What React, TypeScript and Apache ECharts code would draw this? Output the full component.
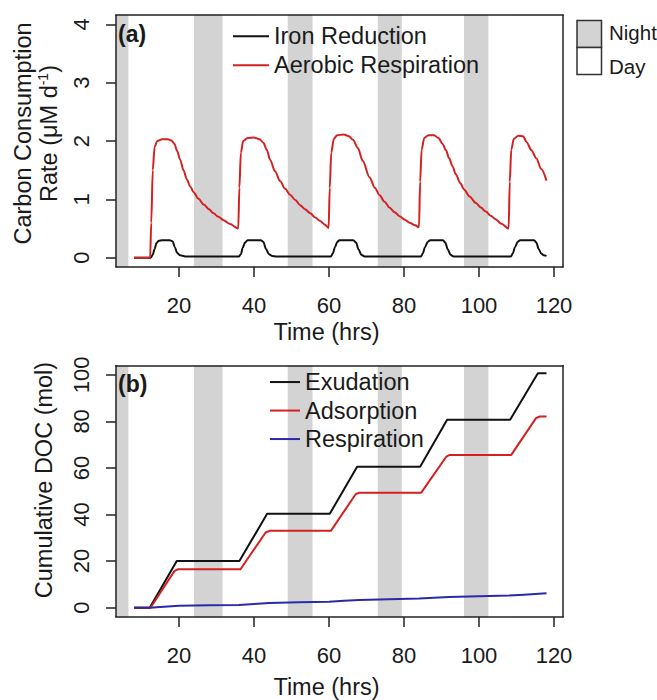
import React, { useEffect, useRef } from "react";
import * as echarts from "echarts";

const FONT = "'Liberation Sans', Arial, Helvetica, sans-serif";
const TEXT = "#1a1a1a";
const AXIS = "#222222";

// ---------- Panel (a): carbon consumption rate (µM d-1) ----------
const ironTime = [
  8, 12.5, 13.0, 13.5, 14.0, 14.6, 15.5, 17.5, 18.3, 18.9, 19.5, 20.3, 22.0,
  36.0, 36.5, 37.0, 37.6, 38.3, 41.8, 42.5, 43.2, 44.0, 44.8, 46.0,
  60.5, 61.0, 61.6, 62.2, 62.8, 66.5, 67.2, 67.9, 68.6, 69.5,
  84.5, 85.0, 85.6, 86.3, 87.0, 90.4, 91.0, 91.7, 92.4, 93.2,
  108.5, 109.0, 109.6, 110.3, 111.0, 114.7, 115.3, 115.9, 116.6, 117.3, 118.0,
];
const ironRate = [
  0, 0, 0.05, 0.15, 0.25, 0.29, 0.3, 0.3, 0.28, 0.18, 0.08, 0.04, 0.02,
  0.02, 0.06, 0.17, 0.26, 0.3, 0.3, 0.27, 0.15, 0.06, 0.03, 0.02,
  0.02, 0.07, 0.18, 0.27, 0.3, 0.3, 0.26, 0.14, 0.05, 0.02,
  0.02, 0.07, 0.18, 0.27, 0.3, 0.3, 0.26, 0.14, 0.05, 0.02,
  0.02, 0.07, 0.18, 0.27, 0.3, 0.3, 0.26, 0.15, 0.07, 0.04, 0.03,
];

const aeroTime = [
  8, 12.3, 12.6, 13.0, 13.5, 14.2, 15.5, 17.0, 18.0, 18.8, 19.5, 20.3, 21.2, 22.1, 23.0, 23.9, 25.2, 26.6, 28.0, 29.2, 30.5, 31.9, 33.5, 35.8,
  36.1, 36.5, 37.1, 38.3, 40.0, 41.5, 42.5, 43.4, 44.3, 45.6, 47.0, 48.3, 49.6, 51.0, 52.3, 53.6, 55.0, 56.3, 57.6, 58.8, 59.9,
  60.2, 60.6, 61.3, 62.2, 64.0, 65.3, 66.4, 67.7, 69.0, 70.8, 72.2, 73.5, 74.8, 76.1, 77.5, 78.8, 80.2, 81.5, 82.8, 84.0,
  84.3, 84.7, 85.4, 86.5, 88.0, 89.2, 90.3, 91.2, 92.0, 93.0, 93.8, 95.0, 96.0, 97.5, 99.1, 100.5, 101.8, 103.1, 104.4, 106.0, 107.9,
  108.2, 108.6, 109.3, 110.5, 111.8, 112.7, 114.0, 115.3, 116.6, 118.0,
];
const aeroRate = [
  0, 0, 0.6, 1.5, 1.9, 2.0, 2.03, 2.03, 2.01, 1.95, 1.83, 1.68, 1.5, 1.34, 1.22, 1.12, 1.01, 0.91, 0.83, 0.76, 0.7, 0.64, 0.58, 0.5,
  1.2, 1.8, 2.0, 2.05, 2.06, 2.03, 1.97, 1.85, 1.68, 1.48, 1.31, 1.18, 1.08, 0.99, 0.9, 0.83, 0.76, 0.69, 0.63, 0.57, 0.51,
  1.2, 1.8, 2.04, 2.1, 2.11, 2.08, 2.02, 1.88, 1.66, 1.38, 1.2, 1.07, 0.96, 0.86, 0.78, 0.71, 0.65, 0.6, 0.56, 0.52,
  1.3, 1.85, 2.05, 2.1, 2.1, 2.05, 1.95, 1.84, 1.71, 1.56, 1.43, 1.28, 1.17, 1.05, 0.94, 0.86, 0.79, 0.72, 0.66, 0.58, 0.5,
  1.3, 1.85, 2.04, 2.09, 2.08, 1.98, 1.84, 1.7, 1.52, 1.32,
];

// ---------- Panel (b): cumulative DOC (mol) ----------
const exuTime = [8, 12.2, 19.4, 36.1, 43.5, 60.2, 67.5, 84.3, 91.5, 108.3, 115.7, 118];
const exuVal = [0, 0, 20.0, 20.0, 40.3, 40.3, 60.5, 60.5, 80.7, 80.7, 100.7, 100.7];

const adsTime = [8, 12.4, 18.8, 19.8, 36.4, 43.1, 44.1, 60.5, 67.1, 68.1, 84.6, 91.3, 92.2, 108.6, 115.2, 116.2, 118];
const adsVal = [0, 0, 15.8, 16.5, 16.5, 32.3, 33.0, 33.0, 48.7, 49.4, 49.4, 64.9, 65.6, 65.6, 81.4, 82.1, 82.1];

const respTime = [8, 12.2, 14, 20, 28, 36, 40, 44, 52, 60, 64, 68, 76, 84, 88, 92, 100, 108, 112, 116, 118];
const respVal = [0, 0, 0.2, 0.8, 1.0, 1.2, 1.6, 2.0, 2.3, 2.6, 3.0, 3.3, 3.6, 3.9, 4.3, 4.6, 4.9, 5.2, 5.6, 6.0, 6.2];

// ---------- Night periods (hrs) ----------
const nightStart = [0, 24, 49, 73, 96];
const nightEnd = [6.5, 31.6, 55.6, 79.4, 102.5];

// ---------- Ticks ----------
const xTicks = [20, 40, 60, 80, 100, 120];
const yTicksA = [0, 1, 2, 3, 4];
const yTicksB = [0, 20, 40, 60, 80, 100];

const X_MIN = 3.2;
const X_MAX = 122.4;

const zip = (t: number[], v: number[]) => t.map((x, i) => [x, v[i]]);

function buildOption(): any {
  const bands = nightStart.map((s, i) => [
    { xAxis: Math.max(s, X_MIN) },
    { xAxis: nightEnd[i] },
  ]);

  const labelStyle = { fontFamily: FONT, fontSize: 22, color: TEXT };
  const lineSt = { color: AXIS, width: 1.5 };

  const bottomX = (gridIndex: number, nameGap: number) => ({
    type: "value",
    gridIndex,
    min: X_MIN,
    max: X_MAX,
    position: "bottom",
    z: 10,
    axisLine: { show: true, onZero: false, lineStyle: lineSt },
    axisTick: { show: true, length: 10, customValues: xTicks, lineStyle: lineSt },
    axisLabel: { customValues: xTicks, margin: 27, ...labelStyle },
    splitLine: { show: false },
    name: "Time (hrs)",
    nameLocation: "middle",
    nameGap,
    nameTextStyle: { fontFamily: FONT, fontSize: 23.5, color: TEXT, padding: [0, 26, 0, 0] },
  });
  const topX = (gridIndex: number) => ({
    type: "value",
    gridIndex,
    min: X_MIN,
    max: X_MAX,
    position: "top",
    z: 10,
    axisLine: { show: true, onZero: false, lineStyle: lineSt },
    axisTick: { show: false },
    axisLabel: { show: false },
    splitLine: { show: false },
  });
  const leftY = (gridIndex: number, min: number, max: number, ticks: number[]) => ({
    type: "value",
    gridIndex,
    min,
    max,
    position: "left",
    z: 10,
    axisLine: { show: true, onZero: false, lineStyle: lineSt },
    axisTick: { show: true, length: 10, customValues: ticks, lineStyle: lineSt },
    axisLabel: { show: false },
    splitLine: { show: false },
  });
  const rightY = (gridIndex: number, min: number, max: number) => ({
    type: "value",
    gridIndex,
    min,
    max,
    position: "right",
    z: 10,
    axisLine: { show: true, onZero: false, lineStyle: lineSt },
    axisTick: { show: false },
    axisLabel: { show: false },
    splitLine: { show: false },
  });

  const line = (name: string, data: number[][], color: string, xi: number, smooth: number, extra: any = {}) => ({
    type: "line",
    name,
    xAxisIndex: xi,
    yAxisIndex: xi,
    data,
    symbol: "none",
    showSymbol: false,
    smooth,
    smoothMonotone: "x",
    lineStyle: { color, width: 2 },
    itemStyle: { color },
    ...extra,
  });

  const legendText = { fontFamily: FONT, fontSize: 23.5, color: TEXT };

  return {
    animation: false,
    backgroundColor: "#ffffff",
    grid: [
      { left: 116, top: 15, width: 447, height: 252 },
      { left: 116, top: 365.5, width: 447, height: 251.5 },
    ],
    xAxis: [bottomX(0, 52.5), bottomX(1, 58), topX(0), topX(1)],
    yAxis: [
      leftY(0, -0.16, 4.16, yTicksA),
      leftY(1, -4, 104, yTicksB),
      rightY(0, -0.16, 4.16),
      rightY(1, -4, 104),
    ],
    legend: [
      {
        orient: "vertical",
        left: 233,
        top: 21.8,
        itemWidth: 36,
        itemHeight: 2,
        itemGap: 0,
        padding: 0,
        icon: "rect",
        selectedMode: false,
        data: ["Iron Reduction", "Aerobic Respiration"],
        textStyle: { ...legendText, lineHeight: 29 },
      },
      {
        orient: "vertical",
        left: 270,
        top: 367.8,
        itemWidth: 30,
        itemHeight: 2,
        itemGap: 0,
        padding: 0,
        icon: "rect",
        selectedMode: false,
        data: ["Exudation", "Adsorption", "Respiration"],
        textStyle: { ...legendText, lineHeight: 28.5 },
      },
    ],
    series: [
      line("Iron Reduction", zip(ironTime, ironRate), "#111111", 0, 0.3, {
        markArea: { silent: true, itemStyle: { color: "#d3d3d3" }, data: bands },
      }),
      line("Aerobic Respiration", zip(aeroTime, aeroRate), "#d42020", 0, 0.3),
      line("Exudation", zip(exuTime, exuVal), "#111111", 1, 0, {
        markArea: { silent: true, itemStyle: { color: "#d3d3d3" }, data: bands },
      }),
      line("Adsorption", zip(adsTime, adsVal), "#d42020", 1, 0),
      line("Respiration", zip(respTime, respVal), "#2a2aa8", 1, 0),
    ],
    graphic: [
      {
        type: "text",
        z: 50,
        x: 118,
        y: 34,
        style: { text: "(a)", fontFamily: FONT, fontSize: 23, fontWeight: "bold", fill: TEXT, align: "left", verticalAlign: "middle" },
      },
      {
        type: "text",
        z: 50,
        x: 118,
        y: 384,
        style: { text: "(b)", fontFamily: FONT, fontSize: 23, fontWeight: "bold", fill: TEXT, align: "left", verticalAlign: "middle" },
      },
      {
        type: "text",
        z: 50,
        x: 36,
        y: 133.5,
        rotation: Math.PI / 2,
        style: {
          text: "Carbon Consumption\nRate (μM d{sup|-1})",
          fontFamily: FONT,
          fontSize: 23.5,
          lineHeight: 26.5,
          fill: TEXT,
          align: "center",
          verticalAlign: "middle",
          rich: { sup: { fontFamily: FONT, fontSize: 14, lineHeight: 14, verticalAlign: "top", fill: TEXT } },
        },
      },
      {
        type: "text",
        z: 50,
        x: 44,
        y: 480,
        rotation: Math.PI / 2,
        style: {
          text: "Cumulative DOC (mol)",
          fontFamily: FONT,
          fontSize: 23.5,
          fill: TEXT,
          align: "center",
          verticalAlign: "middle",
        },
      },
      {
        type: "rect",
        z: 50,
        shape: { x: 577, y: 20.5, width: 24.5, height: 27 },
        style: { fill: "#d3d3d3", stroke: "#333", lineWidth: 1.5 },
      },
      {
        type: "rect",
        z: 50,
        shape: { x: 577, y: 47.5, width: 24.5, height: 27 },
        style: { fill: "#ffffff", stroke: "#333", lineWidth: 1.5 },
      },
      {
        type: "text",
        z: 50,
        x: 609,
        y: 32,
        style: { text: "Night", fontFamily: FONT, fontSize: 20.5, fill: TEXT, align: "left", verticalAlign: "middle" },
      },
      {
        type: "text",
        z: 50,
        x: 609,
        y: 66,
        style: { text: "Day", fontFamily: FONT, fontSize: 20.5, fill: TEXT, align: "left", verticalAlign: "middle" },
      },
    ],
  };
}

// rotated y tick labels, positioned through the chart's own axis scales
function yTickLabels(chart: echarts.ECharts, axisIndex: number, ticks: number[]) {
  return ticks.map((v) => {
    const p = chart.convertToPixel({ xAxisIndex: axisIndex, yAxisIndex: axisIndex } as any, [X_MIN, v]) as number[];
    return {
      type: "text",
      z: 50,
      x: p[0] - 24,
      y: p[1],
      rotation: Math.PI / 2,
      style: {
        text: String(v),
        fontFamily: FONT,
        fontSize: 22,
        fill: TEXT,
        align: "center",
        verticalAlign: "bottom",
      },
    };
  });
}

export default function App() {
  const ref = useRef<HTMLDivElement>(null);
  useEffect(() => {
    if (!ref.current) return;
    const chart = echarts.init(ref.current, null, { renderer: "svg" });
    const option = buildOption();
    chart.setOption(option);
    option.graphic = [
      ...option.graphic,
      ...yTickLabels(chart, 0, yTicksA),
      ...yTickLabels(chart, 1, yTicksB),
    ];
    chart.setOption(option, true);
    return () => chart.dispose();
  }, []);
  return (
    <div
      ref={ref}
      style={{ position: "fixed", left: 0, top: 0, width: 657, height: 700, background: "#ffffff" }}
    />
  );
}
